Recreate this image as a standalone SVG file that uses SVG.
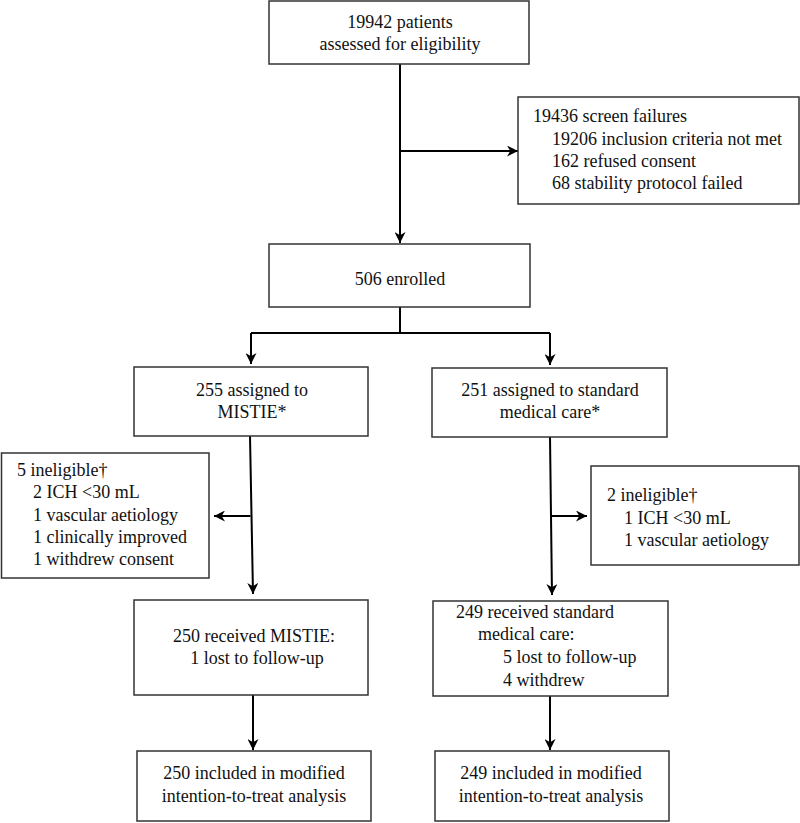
<svg xmlns="http://www.w3.org/2000/svg" width="800" height="823" viewBox="0 0 800 823">
<style>
.box{fill:#fff;stroke:#333;stroke-width:1.5}
.t{font-family:"Liberation Serif","Times New Roman",serif;font-size:18px;fill:#111}
.c{text-anchor:middle}
.ln{fill:none;stroke:#000;stroke-width:2}
</style>
<defs>
<marker id="ah" viewBox="0 0 10 10" refX="10" refY="5" markerWidth="11" markerHeight="11" markerUnits="userSpaceOnUse" orient="auto">
<path d="M0,0 L10,5 L0,10 L3,5 z" fill="#000"/>
</marker>
</defs>
<rect width="800" height="823" fill="#fff"/>
<g id="connectors">
<line class="ln" x1="400" y1="64" x2="400" y2="243" marker-end="url(#ah)"/>
<line class="ln" x1="400" y1="151" x2="518" y2="151" marker-end="url(#ah)"/>
<polyline class="ln" points="400,307 400,333"/>
<polyline class="ln" points="251,333 550,333"/>
<line class="ln" x1="251" y1="333" x2="251" y2="364" marker-end="url(#ah)"/>
<line class="ln" x1="550" y1="333" x2="550" y2="365" marker-end="url(#ah)"/>
<line class="ln" x1="250" y1="436" x2="253" y2="594" marker-end="url(#ah)"/>
<line class="ln" x1="250.5" y1="516" x2="214" y2="516" marker-end="url(#ah)"/>
<line class="ln" x1="550" y1="437" x2="552" y2="595" marker-end="url(#ah)"/>
<line class="ln" x1="551" y1="516" x2="587" y2="516" marker-end="url(#ah)"/>
<line class="ln" x1="253" y1="695" x2="253" y2="750" marker-end="url(#ah)"/>
<line class="ln" x1="550" y1="696" x2="550" y2="750" marker-end="url(#ah)"/>
</g>
<g id="assessed">
<rect class="box" x="269" y="1" width="260" height="63"/>
<text class="t c" x="400" y="28">19942 patients</text>
<text class="t c" x="400" y="50">assessed for eligibility</text>
</g>
<g id="screen-failures">
<rect class="box" x="518" y="97" width="281" height="107"/>
<text class="t" x="533" y="122">19436 screen failures</text>
<text class="t" x="552" y="145">19206 inclusion criteria not met</text>
<text class="t" x="552" y="167">162 refused consent</text>
<text class="t" x="552" y="189">68 stability protocol failed</text>
</g>
<g id="enrolled">
<rect class="box" x="269" y="244" width="261" height="63"/>
<text class="t c" x="400" y="285">506 enrolled</text>
</g>
<g id="assigned-mistie">
<rect class="box" x="134" y="367" width="234" height="69"/>
<text class="t c" x="252" y="396">255 assigned to</text>
<text class="t c" x="252" y="418">MISTIE*</text>
</g>
<g id="assigned-smc">
<rect class="box" x="432" y="368" width="235" height="69"/>
<text class="t c" x="550" y="396">251 assigned to standard</text>
<text class="t c" x="550" y="418">medical care*</text>
</g>
<g id="ineligible-mistie">
<rect class="box" x="1.5" y="453" width="207.5" height="125"/>
<text class="t" x="17" y="476">5 ineligible†</text>
<text class="t" x="33" y="498">2 ICH &lt;30 mL</text>
<text class="t" x="33" y="521">1 vascular aetiology</text>
<text class="t" x="33" y="543">1 clinically improved</text>
<text class="t" x="33" y="565">1 withdrew consent</text>
</g>
<g id="ineligible-smc">
<rect class="box" x="591" y="466" width="208" height="99"/>
<text class="t" x="607" y="501">2 ineligible†</text>
<text class="t" x="624" y="524">1 ICH &lt;30 mL</text>
<text class="t" x="624" y="546">1 vascular aetiology</text>
</g>
<g id="received-mistie">
<rect class="box" x="134" y="600" width="234" height="95"/>
<text class="t c" x="254" y="642">250 received MISTIE:</text>
<text class="t c" x="257" y="664">1 lost to follow-up</text>
</g>
<g id="received-smc">
<rect class="box" x="433" y="601" width="235" height="95"/>
<text class="t" x="456" y="618">249 received standard</text>
<text class="t" x="478" y="640">medical care:</text>
<text class="t" x="503" y="663">5 lost to follow-up</text>
<text class="t" x="503" y="686">4 withdrew</text>
</g>
<g id="mitt-mistie">
<rect class="box" x="137" y="751" width="234" height="70"/>
<text class="t c" x="254" y="779">250 included in modified</text>
<text class="t c" x="254" y="802">intention-to-treat analysis</text>
</g>
<g id="mitt-smc">
<rect class="box" x="435" y="751" width="234" height="70"/>
<text class="t c" x="551" y="779">249 included in modified</text>
<text class="t c" x="551" y="802">intention-to-treat analysis</text>
</g>
</svg>
